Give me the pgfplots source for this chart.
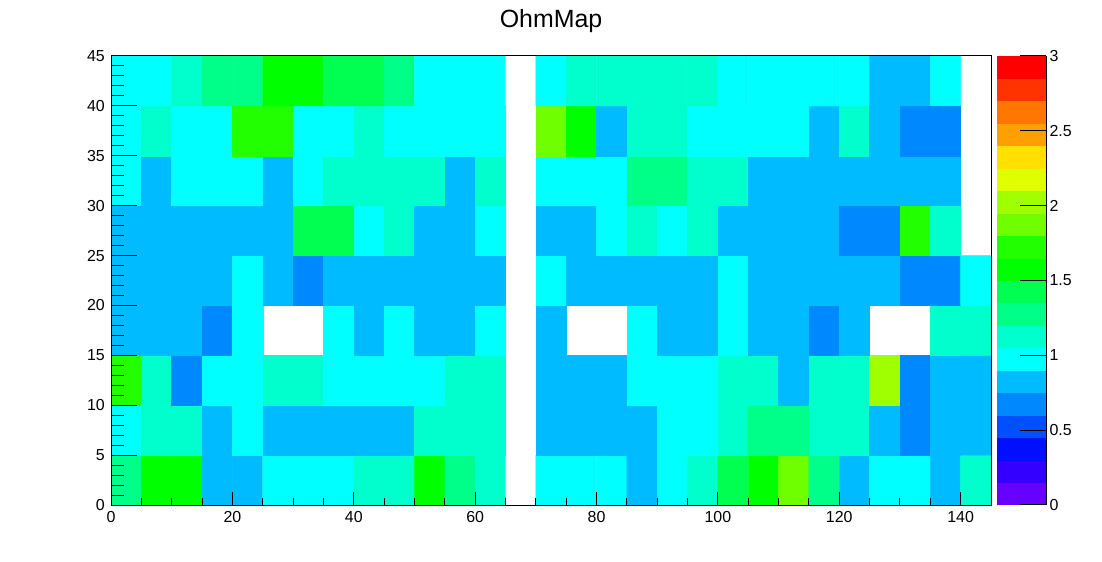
\documentclass[border=0pt]{standalone}
\usepackage{fontspec}
\setmainfont{Liberation Sans}
\usepackage{pgfplots}
\pgfplotsset{compat=1.18}
\pgfplotsset{
  colormap={ohm}{
    rgb255=(102,0,255) rgb255=(51,0,255) rgb255=(0,16,255) rgb255=(0,80,255)
    rgb255=(0,136,255) rgb255=(0,187,255) rgb255=(0,255,255) rgb255=(0,255,204)
    rgb255=(0,255,136) rgb255=(0,255,80) rgb255=(0,255,0) rgb255=(34,255,0)
    rgb255=(112,255,0) rgb255=(160,255,0) rgb255=(224,255,0) rgb255=(255,224,0)
    rgb255=(255,160,0) rgb255=(255,119,0) rgb255=(255,51,0) rgb255=(255,0,0)},
  myframe/.style={
    scale only axis, width=880bp, height=449bp,
    at={(111bp,57bp)}, anchor=south west,
    xmin=0, xmax=145, ymin=0, ymax=45,
    axis line style={line width=1bp, black},
    tick style={line width=1bp, black},
    tick align=inside, tick pos=left,
    /pgf/number format/assume math mode=true,
    tick label style={font=\fontsize{16}{19}\selectfont},
  },
}
\begin{document}
\begin{tikzpicture}
\path[use as bounding box] (0,0) rectangle (1102bp,562bp);
\begin{axis}[myframe, axis on top,
  colormap name=ohm, colormap access=piecewise constant,
  point meta min=0, point meta max=3,
  xtick={0,20,40,60,80,100,120,140}, minor x tick num=3,
  major tick length=13bp, minor tick length=6.5bp,
  ytick=\empty,
  xticklabel style={yshift=-2.5bp},
  unbounded coords=jump,
  colorbar,
  colorbar shift/.style={xshift=6bp},
  colorbar style={
    at={(parent axis.north east)}, anchor=north west,
    scale only axis, width=49bp, height=449bp,
    axis x line=none, axis y line*=right,
    y axis line style={-, line width=1bp, black},
    ytick={0,0.5,1,1.5,2,2.5,3}, minor y tick num=0,
    major tick length=26bp, tick align=inside,
    tick style={line width=1bp, black},
    /pgf/number format/assume math mode=true,
    yticklabel style={font=\fontsize{16}{19}\selectfont},
  },
]
\addplot[matrix plot*, mesh/cols=29, mesh/rows=9, point meta=explicit]
table[row sep=\\, x=x, y=y, meta=c] {
x y c \\
2.5 2.5 1.275\\ 7.5 2.5 1.575\\ 12.5 2.5 1.575\\ 17.5 2.5 0.825\\ 22.5 2.5 0.825\\ 27.5 2.5 0.975\\ 32.5 2.5 0.975\\ 37.5 2.5 0.975\\ 42.5 2.5 1.125\\ 47.5 2.5 1.125\\ 52.5 2.5 1.575\\ 57.5 2.5 1.275\\ 62.5 2.5 1.125\\ 67.5 2.5 nan\\ 72.5 2.5 0.975\\ 77.5 2.5 0.975\\ 82.5 2.5 0.975\\ 87.5 2.5 0.825\\ 92.5 2.5 0.975\\ 97.5 2.5 1.125\\ 102.5 2.5 1.425\\ 107.5 2.5 1.575\\ 112.5 2.5 1.875\\ 117.5 2.5 1.275\\ 122.5 2.5 0.825\\ 127.5 2.5 0.975\\ 132.5 2.5 0.975\\ 137.5 2.5 0.825\\ 142.5 2.5 1.125\\
2.5 7.5 0.975\\ 7.5 7.5 1.125\\ 12.5 7.5 1.125\\ 17.5 7.5 0.825\\ 22.5 7.5 0.975\\ 27.5 7.5 0.825\\ 32.5 7.5 0.825\\ 37.5 7.5 0.825\\ 42.5 7.5 0.825\\ 47.5 7.5 0.825\\ 52.5 7.5 1.125\\ 57.5 7.5 1.125\\ 62.5 7.5 1.125\\ 67.5 7.5 nan\\ 72.5 7.5 0.825\\ 77.5 7.5 0.825\\ 82.5 7.5 0.825\\ 87.5 7.5 0.825\\ 92.5 7.5 0.975\\ 97.5 7.5 0.975\\ 102.5 7.5 1.125\\ 107.5 7.5 1.275\\ 112.5 7.5 1.275\\ 117.5 7.5 1.125\\ 122.5 7.5 1.125\\ 127.5 7.5 0.825\\ 132.5 7.5 0.675\\ 137.5 7.5 0.825\\ 142.5 7.5 0.825\\
2.5 12.5 1.725\\ 7.5 12.5 1.125\\ 12.5 12.5 0.675\\ 17.5 12.5 0.975\\ 22.5 12.5 0.975\\ 27.5 12.5 1.125\\ 32.5 12.5 1.125\\ 37.5 12.5 0.975\\ 42.5 12.5 0.975\\ 47.5 12.5 0.975\\ 52.5 12.5 0.975\\ 57.5 12.5 1.125\\ 62.5 12.5 1.125\\ 67.5 12.5 nan\\ 72.5 12.5 0.825\\ 77.5 12.5 0.825\\ 82.5 12.5 0.825\\ 87.5 12.5 0.975\\ 92.5 12.5 0.975\\ 97.5 12.5 0.975\\ 102.5 12.5 1.125\\ 107.5 12.5 1.125\\ 112.5 12.5 0.825\\ 117.5 12.5 1.125\\ 122.5 12.5 1.125\\ 127.5 12.5 2.025\\ 132.5 12.5 0.675\\ 137.5 12.5 0.825\\ 142.5 12.5 0.825\\
2.5 17.5 0.825\\ 7.5 17.5 0.825\\ 12.5 17.5 0.825\\ 17.5 17.5 0.675\\ 22.5 17.5 0.975\\ 27.5 17.5 nan\\ 32.5 17.5 nan\\ 37.5 17.5 0.975\\ 42.5 17.5 0.825\\ 47.5 17.5 0.975\\ 52.5 17.5 0.825\\ 57.5 17.5 0.825\\ 62.5 17.5 0.975\\ 67.5 17.5 nan\\ 72.5 17.5 0.825\\ 77.5 17.5 nan\\ 82.5 17.5 nan\\ 87.5 17.5 0.975\\ 92.5 17.5 0.825\\ 97.5 17.5 0.825\\ 102.5 17.5 0.975\\ 107.5 17.5 0.825\\ 112.5 17.5 0.825\\ 117.5 17.5 0.675\\ 122.5 17.5 0.825\\ 127.5 17.5 nan\\ 132.5 17.5 nan\\ 137.5 17.5 1.125\\ 142.5 17.5 1.125\\
2.5 22.5 0.825\\ 7.5 22.5 0.825\\ 12.5 22.5 0.825\\ 17.5 22.5 0.825\\ 22.5 22.5 0.975\\ 27.5 22.5 0.825\\ 32.5 22.5 0.675\\ 37.5 22.5 0.825\\ 42.5 22.5 0.825\\ 47.5 22.5 0.825\\ 52.5 22.5 0.825\\ 57.5 22.5 0.825\\ 62.5 22.5 0.825\\ 67.5 22.5 nan\\ 72.5 22.5 0.975\\ 77.5 22.5 0.825\\ 82.5 22.5 0.825\\ 87.5 22.5 0.825\\ 92.5 22.5 0.825\\ 97.5 22.5 0.825\\ 102.5 22.5 0.975\\ 107.5 22.5 0.825\\ 112.5 22.5 0.825\\ 117.5 22.5 0.825\\ 122.5 22.5 0.825\\ 127.5 22.5 0.825\\ 132.5 22.5 0.675\\ 137.5 22.5 0.675\\ 142.5 22.5 0.975\\
2.5 27.5 0.825\\ 7.5 27.5 0.825\\ 12.5 27.5 0.825\\ 17.5 27.5 0.825\\ 22.5 27.5 0.825\\ 27.5 27.5 0.825\\ 32.5 27.5 1.425\\ 37.5 27.5 1.425\\ 42.5 27.5 0.975\\ 47.5 27.5 1.125\\ 52.5 27.5 0.825\\ 57.5 27.5 0.825\\ 62.5 27.5 0.975\\ 67.5 27.5 nan\\ 72.5 27.5 0.825\\ 77.5 27.5 0.825\\ 82.5 27.5 0.975\\ 87.5 27.5 1.125\\ 92.5 27.5 0.975\\ 97.5 27.5 1.125\\ 102.5 27.5 0.825\\ 107.5 27.5 0.825\\ 112.5 27.5 0.825\\ 117.5 27.5 0.825\\ 122.5 27.5 0.675\\ 127.5 27.5 0.675\\ 132.5 27.5 1.725\\ 137.5 27.5 1.125\\ 142.5 27.5 nan\\
2.5 32.5 0.975\\ 7.5 32.5 0.825\\ 12.5 32.5 0.975\\ 17.5 32.5 0.975\\ 22.5 32.5 0.975\\ 27.5 32.5 0.825\\ 32.5 32.5 0.975\\ 37.5 32.5 1.125\\ 42.5 32.5 1.125\\ 47.5 32.5 1.125\\ 52.5 32.5 1.125\\ 57.5 32.5 0.825\\ 62.5 32.5 1.125\\ 67.5 32.5 nan\\ 72.5 32.5 0.975\\ 77.5 32.5 0.975\\ 82.5 32.5 0.975\\ 87.5 32.5 1.275\\ 92.5 32.5 1.275\\ 97.5 32.5 1.125\\ 102.5 32.5 1.125\\ 107.5 32.5 0.825\\ 112.5 32.5 0.825\\ 117.5 32.5 0.825\\ 122.5 32.5 0.825\\ 127.5 32.5 0.825\\ 132.5 32.5 0.825\\ 137.5 32.5 0.825\\ 142.5 32.5 nan\\
2.5 37.5 0.975\\ 7.5 37.5 1.125\\ 12.5 37.5 0.975\\ 17.5 37.5 0.975\\ 22.5 37.5 1.725\\ 27.5 37.5 1.725\\ 32.5 37.5 0.975\\ 37.5 37.5 0.975\\ 42.5 37.5 1.125\\ 47.5 37.5 0.975\\ 52.5 37.5 0.975\\ 57.5 37.5 0.975\\ 62.5 37.5 0.975\\ 67.5 37.5 nan\\ 72.5 37.5 1.875\\ 77.5 37.5 1.575\\ 82.5 37.5 0.825\\ 87.5 37.5 1.125\\ 92.5 37.5 1.125\\ 97.5 37.5 0.975\\ 102.5 37.5 0.975\\ 107.5 37.5 0.975\\ 112.5 37.5 0.975\\ 117.5 37.5 0.825\\ 122.5 37.5 1.125\\ 127.5 37.5 0.825\\ 132.5 37.5 0.675\\ 137.5 37.5 0.675\\ 142.5 37.5 nan\\
2.5 42.5 0.975\\ 7.5 42.5 0.975\\ 12.5 42.5 1.125\\ 17.5 42.5 1.275\\ 22.5 42.5 1.275\\ 27.5 42.5 1.575\\ 32.5 42.5 1.575\\ 37.5 42.5 1.425\\ 42.5 42.5 1.425\\ 47.5 42.5 1.275\\ 52.5 42.5 0.975\\ 57.5 42.5 0.975\\ 62.5 42.5 0.975\\ 67.5 42.5 nan\\ 72.5 42.5 0.975\\ 77.5 42.5 1.125\\ 82.5 42.5 1.125\\ 87.5 42.5 1.125\\ 92.5 42.5 1.125\\ 97.5 42.5 1.125\\ 102.5 42.5 0.975\\ 107.5 42.5 0.975\\ 112.5 42.5 0.975\\ 117.5 42.5 0.975\\ 122.5 42.5 0.975\\ 127.5 42.5 0.825\\ 132.5 42.5 0.825\\ 137.5 42.5 0.975\\ 142.5 42.5 nan\\
};
\end{axis}
\begin{axis}[myframe,
  xtick=\empty,
  ytick={0,5,10,15,20,25,30,35,40,45}, minor y tick num=4,
  major tick length=26bp, minor tick length=13bp,
  yticklabel style={xshift=-2.7bp},
]
\end{axis}
\node[anchor=base, font=\fontsize{25}{30}\selectfont] at (551bp,534.7bp) {OhmMap};
\end{tikzpicture}
\end{document}
